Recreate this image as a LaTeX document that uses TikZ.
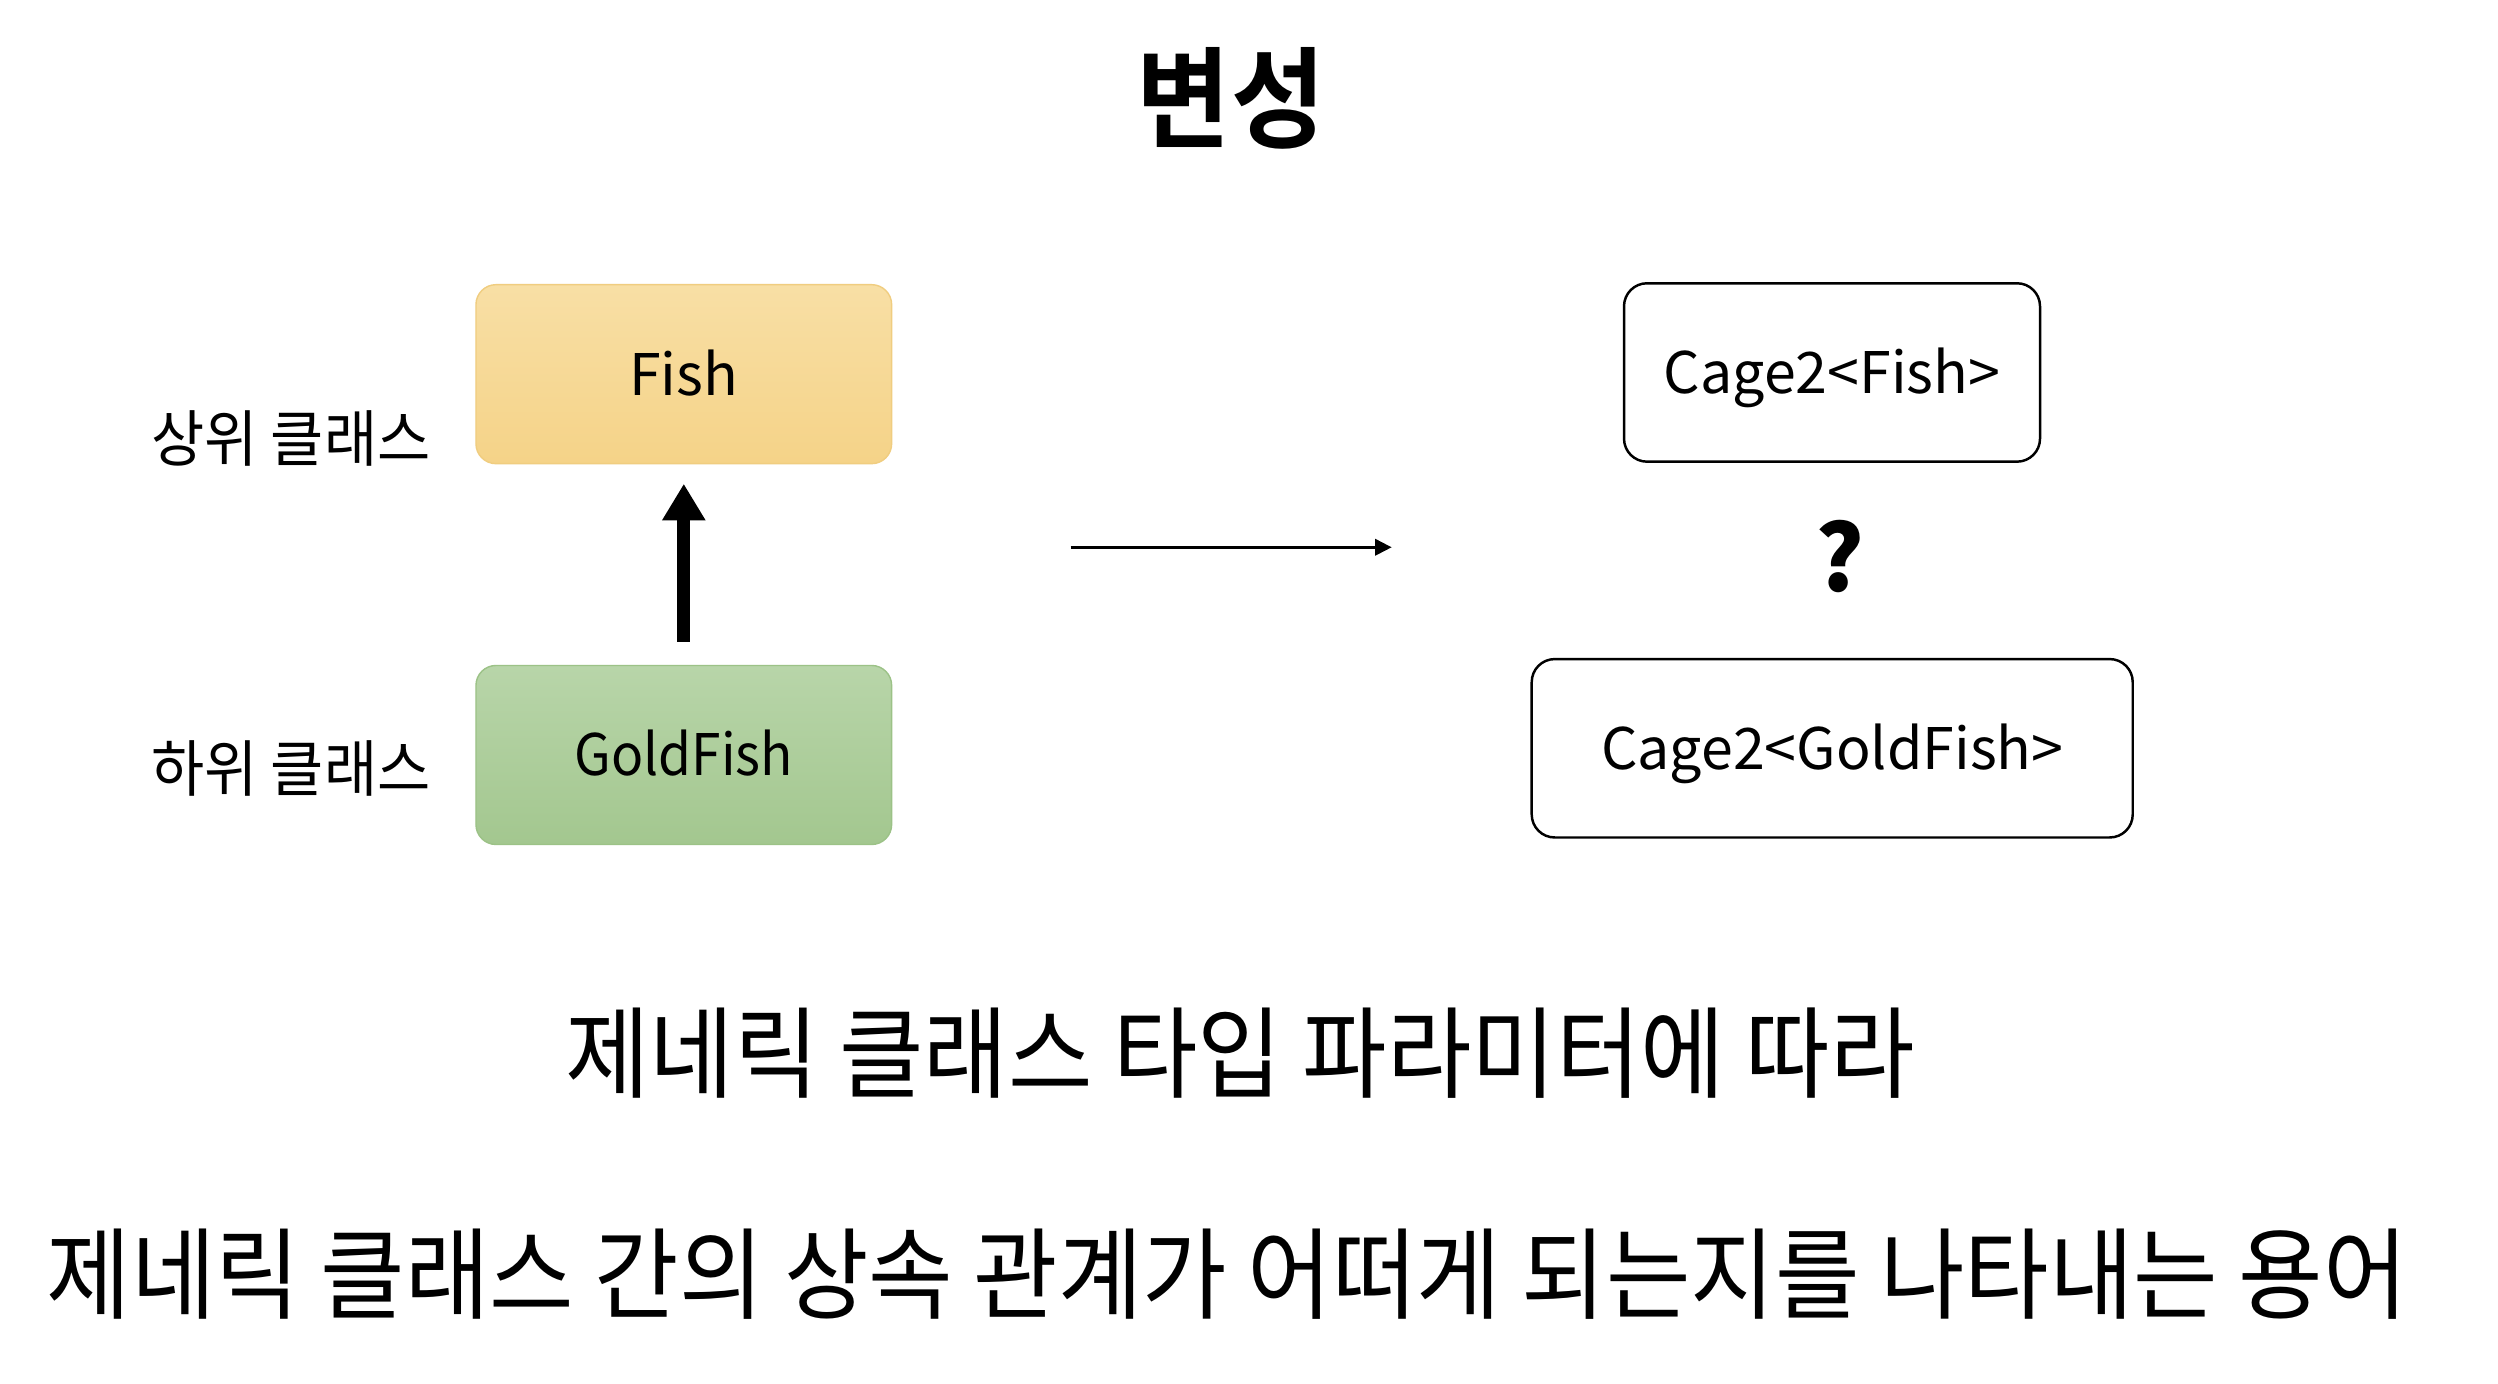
\documentclass[tikz,border=0pt]{standalone}
\usepackage{fontspec}
\usetikzlibrary{arrows.meta}
\newfontfamily\hanfont[FakeStretch=0.92]{Noto Sans CJK KR}
\newfontfamily\sidefont[FakeStretch=0.94]{Noto Sans CJK KR}
\newfontfamily\hanboldfont[FakeStretch=0.93]{Noto Sans CJK KR Bold}
\newfontfamily\latfont{Noto Sans CJK KR}
\newfontfamily\latnarrow[FakeStretch=0.93]{Noto Sans CJK KR}
\definecolor{fishtop}{HTML}{F8DFA5}
\definecolor{fishbot}{HTML}{F5D388}
\definecolor{fishline}{HTML}{F0CD80}
\definecolor{goldtop}{HTML}{B8D5A9}
\definecolor{goldbot}{HTML}{A3C78F}
\definecolor{goldline}{HTML}{9CC287}
\tikzset{
  classbox/.style={rectangle, rounded corners=0.2cm, minimum width=4.157cm, minimum height=1.79cm,
    inner sep=0pt, text height=11.95pt, text depth=0pt,
    font=\latfont\fontsize{16.3pt}{18pt}\selectfont},
  fishbox/.style={classbox, draw=fishline, line width=0.4pt, top color=fishtop, bottom color=fishbot},
  goldbox/.style={classbox, draw=goldline, line width=0.4pt, top color=goldtop, bottom color=goldbot,
    font=\latnarrow\fontsize{16.3pt}{18pt}\selectfont},
  cagebox/.style={classbox, draw=black, line width=0.7pt, fill=white, rounded corners=0.23cm, minimum height=1.784cm},
  sidelabel/.style={inner sep=0pt, font=\sidefont\fontsize{17.5pt}{21pt}\selectfont},
  bodytext/.style={inner sep=0pt, font=\hanfont\fontsize{28.4pt}{34pt}\selectfont},
  titletext/.style={inner sep=0pt, font=\hanboldfont\fontsize{31.3pt}{36pt}\selectfont},
  qmark/.style={inner sep=0pt, font=\latfont\bfseries\fontsize{26pt}{30pt}\selectfont},
  inherit/.style={line width=0.133cm, -{Triangle[length=0.367cm,width=0.41cm]}},
  maps/.style={line width=0.03cm, -{Triangle[length=0.167cm,width=0.163cm]}}
}
\begin{document}
\begin{tikzpicture}
\useasboundingbox[fill=white] (0,0) rectangle (24.98,13.84);
\node[titletext] (title) at (12.31,12.855) {변성};
\node[fishbox] (fish) at (6.838,10.098) {Fish};
\node[goldbox] (gold) at (6.838,6.29) {GoldFish};
\node[sidelabel] (super) at (2.91,9.46) {상위 클래스};
\node[sidelabel] (sub) at (2.91,6.16) {하위 클래스};
\draw[inherit, shorten <=0.23cm, shorten >=0.194cm] (gold.north) -- (fish.south);
\coordinate (mapstart) at (10.707,8.367);
\coordinate (mapend) at (13.917,8.367);
\draw[maps] (mapstart) -- (mapend);
\node[cagebox, minimum width=4.16cm] (cfish) at (18.32,10.115) {Cage2<Fish>};
\node[cagebox, minimum width=6.01cm] (cgold) at (18.322,6.357) {Cage2<GoldFish>};
\node[qmark] (q) at (18.404,8.273) {?};
\node[bodytext] (line1) at (12.40,3.306) {제네릭 클래스 타입 파라미터에 따라};
\node[bodytext] (line2) at (12.272,1.097) {제네릭 클래스 간의 상속 관계가 어떠게 되는지를 나타내는 용어};
\end{tikzpicture}
\end{document}
